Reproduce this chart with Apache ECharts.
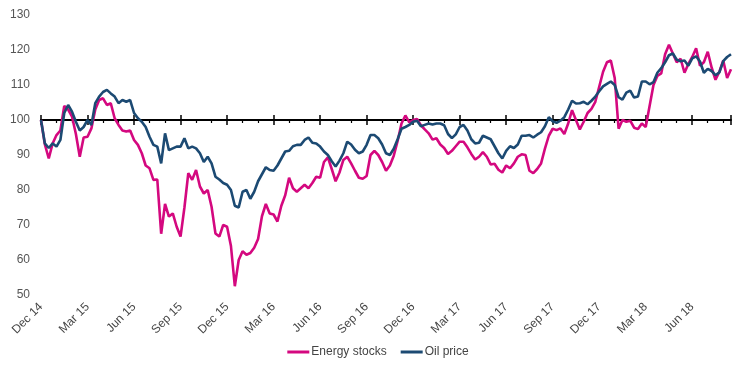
<!DOCTYPE html>
<html>
<head>
<meta charset="utf-8">
<script src="https://cdn.jsdelivr.net/npm/echarts@6/dist/echarts.min.js"></script>
<style>html,body{margin:0;padding:0;background:#fff;}#c{width:756px;height:379px;}</style>
</head>
<body>
<div id="c"></div>
<script>
// Quarter labels (one every 12 sample steps; 4 samples per month)
const quarterLabels = ['Dec 14','Mar 15','Jun 15','Sep 15','Dec 15','Mar 16','Jun 16','Sep 16','Dec 16','Mar 17','Jun 17','Sep 17','Dec 17','Mar 18','Jun 18'];
const yTicks = [50,60,70,80,90,100,110,120,130];

// Energy stocks (index, Dec 2014 = 100), ~weekly samples
const energyStocks = [
100,93,89,93.3,95.7,97,104,103,101,96,
89.5,95,95.2,97.6,103,105.7,106.2,104.3,104.8,100.5,
98.6,97,96.7,97,94.3,92.9,90.5,87,86.2,82.9,
83,67.5,76,72.4,73.3,69.5,66.7,75,84.8,82.9,
85.7,81,79,80,75.2,67.6,66.7,70,69.5,64,
52.5,60,62.5,61.5,62,63.5,66,72.5,76,73.3,
73,71,75.5,78.5,83.5,80.5,79.5,80.5,81.5,80.5,
82,83.8,83.5,88,89.3,86,82.5,85,88.6,89.5,
87.6,85.5,83.5,83.2,84,90,91.2,90,88,85.5,
87,89.8,94,99,101.3,99.3,100,100.3,98.5,97.3,
96.2,94.4,94.8,93,92,90.3,91.2,92.5,93.8,93.8,
92.2,90.3,88.7,89.5,90.8,89.5,87.3,87.5,85.8,85,
87,86.2,87.6,89.5,90.2,90,85.5,84.8,86,87.6,
91.8,95.5,97.5,97.1,97.6,96,99,102.8,100,97.3,
99.5,102,103.2,105.2,109.5,113.8,116.5,117,112,97.5,
100,99.5,99.8,97.8,97.4,99,98,104,110,112.6,
113.3,118.8,121.5,119,116.5,117.5,113.5,116,118,120.5,
115.5,116.5,119.5,115,111.5,113.8,117,112,114.5
];

// Oil price (index, Dec 2014 = 100), ~weekly samples
const oilPrice = [
100,93.3,92,93.3,92.4,94.3,102,104.3,102.4,99.5,
97,98,100,98.6,104.8,106.7,108,108.6,107.6,106.7,
104.8,105.7,105.2,105.7,102,100.5,99.5,98,95.2,92.9,
92.4,87.6,96.2,91.4,91.9,92.4,92.4,94.8,91.9,92.4,
91.9,90.5,88,89.5,87.6,83.8,83,82,81.5,80,
75.5,75,79.5,80,77.5,79.5,82.5,84.5,86.5,85.7,
85.5,87,89,91,91.2,92.5,92.9,92.9,94.3,95,
93.5,93.3,92.4,91,90,88.2,86.7,88.4,90.5,93.8,
93,91.5,90.5,91,92.9,95.7,95.7,94.8,93,90.5,
90,91.8,94.5,97.5,98,98.6,99.5,99.8,98.2,98.6,
99,98.7,99,99,98.5,96,94.8,95.9,98,98.6,
97,94.5,93.3,93.5,95.5,95,94.5,92.5,90.5,89,
91.2,92.5,92,93,95.5,95.5,95.7,95,95.8,96.5,
98.2,100.8,99.6,99.2,99.8,100.8,103,105.5,104.7,104.8,
105.2,104.5,105.5,106.7,108.2,109.6,110.3,111,110,106.5,
105.8,107.8,108.4,106.4,106.7,111,111,110.2,110.8,113.5,
114.8,116.5,118.5,119,117.2,116.8,117,115.5,117.6,118.2,
116.7,113.5,114.6,114,112.8,113.6,116.8,118,118.8
];

const N = energyStocks.length - 1;
const STEP = 12;
const FONT = 'Liberation Sans';

const chart = echarts.init(document.getElementById('c'), null, {renderer: 'canvas'});
chart.setOption({
  animation: false,
  textStyle: {fontFamily: FONT},
  grid: [
    {left: 41, right: 25, top: 15, bottom: 84},
    {left: 41, right: 25, top: 15, height: 105}
  ],
  xAxis: [
    {
      type: 'value', gridIndex: 0, min: 0, max: N, interval: STEP, position: 'bottom',
      axisLine: {show: false}, axisTick: {show: false}, splitLine: {show: false},
      axisLabel: {
        rotate: 45, margin: 10, color: '#444', fontSize: 12, fontFamily: FONT,
        showMaxLabel: false,
        formatter: function (v) { return (v % STEP === 0) ? (quarterLabels[v / STEP] || '') : ''; }
      }
    },
    {
      type: 'value', gridIndex: 1, min: 0, max: N, interval: STEP, position: 'bottom', offset: 0,
      axisLine: {show: true, lineStyle: {color: '#000', width: 2}},
      axisTick: {show: true, inside: true, length: 5, lineStyle: {color: '#000', width: 1.5}},
      minorTick: {show: false},
      axisLabel: {show: false}, splitLine: {show: false}
    },
    {
      type: 'value', gridIndex: 1, min: 0, max: N, interval: STEP, position: 'bottom', offset: 0,
      axisLine: {show: false},
      axisTick: {show: true, inside: false, length: 5, lineStyle: {color: '#000', width: 1.5}},
      minorTick: {show: true, splitNumber: 3, length: 3, lineStyle: {color: '#000', width: 1.2}},
      axisLabel: {show: false}, splitLine: {show: false}
    }
  ],
  yAxis: [
    {
      type: 'value', gridIndex: 0, min: 50, max: 130, interval: 10,
      axisLine: {show: false}, axisTick: {show: false}, splitLine: {show: false},
      axisLabel: {color: '#555', fontSize: 12, margin: 11, fontFamily: FONT}
    },
    {type: 'value', gridIndex: 1, min: 0, max: 1, show: false},
  ],
  legend: {
    bottom: 16, left: 'center',
    itemWidth: 22, itemHeight: 3, itemGap: 14,
    icon: 'rect',
    textStyle: {color: '#444', fontSize: 12, fontFamily: FONT, padding: [0, 0, 0, -3]},
    data: ['Energy stocks', 'Oil price']
  },
  series: [
    {
      name: 'Energy stocks', type: 'line', xAxisIndex: 0, yAxisIndex: 0,
      showSymbol: false, symbol: 'none',
      lineStyle: {color: '#d4087f', width: 2.6},
      itemStyle: {color: '#d4087f'},
      data: energyStocks.map((v, i) => [i, v]), z: 3
    },
    {
      name: 'Oil price', type: 'line', xAxisIndex: 0, yAxisIndex: 0,
      showSymbol: false, symbol: 'none',
      lineStyle: {color: '#1c4a73', width: 2.6},
      itemStyle: {color: '#1c4a73'},
      data: oilPrice.map((v, i) => [i, v]), z: 4
    }
  ]
});
</script>
</body>
</html>
